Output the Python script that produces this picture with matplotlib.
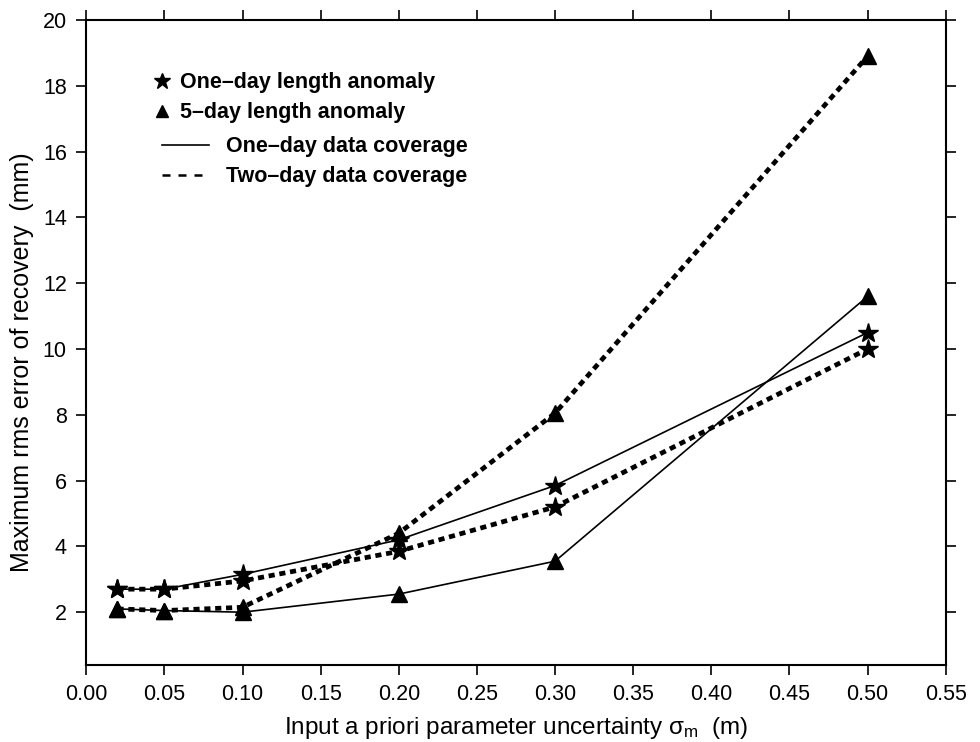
import matplotlib
matplotlib.use("Agg")
import matplotlib.pyplot as plt
from matplotlib.lines import Line2D

plt.rcParams['font.family'] = ['Liberation Sans', 'DejaVu Sans']
plt.rcParams['mathtext.fontset'] = 'custom'
plt.rcParams['mathtext.rm'] = 'Liberation Sans'
plt.rcParams['mathtext.it'] = 'Liberation Sans'

# 数据：输入先验参数不确定度 与 最大 rms 误差
sigma_m = [0.02, 0.05, 0.10, 0.20, 0.30, 0.50]
star_one_day = [2.7, 2.7, 3.15, 4.2, 5.85, 10.5]     # 一天异常，一天覆盖
star_two_day = [2.7, 2.7, 2.95, 3.85, 5.2, 10.0]     # 一天异常，两天覆盖
tri_one_day = [2.1, 2.05, 2.0, 2.55, 3.55, 11.6]     # 五天异常，一天覆盖
tri_two_day = [2.1, 2.05, 2.15, 4.4, 8.05, 18.9]     # 五天异常，两天覆盖

marker_labels = ["One\u2013day length anomaly", "5\u2013day length anomaly"]
line_labels = ["One\u2013day data coverage", "Two\u2013day data coverage"]

fig = plt.figure(figsize=(9.8, 7.42), dpi=100)
ax = fig.add_axes([0.088, 0.104, 0.877, 0.869])

solid = dict(color="black", linewidth=1.2, linestyle="-")
dashed = dict(color="black", linewidth=3.4, linestyle=(0, (1.3, 1.0)))

ax.plot(sigma_m, tri_one_day, marker="^", markersize=11, **solid)
ax.plot(sigma_m, star_one_day, marker="*", markersize=15, **solid)
ax.plot(sigma_m, tri_two_day, marker="^", markersize=11, **dashed)
ax.plot(sigma_m, star_two_day, marker="*", markersize=15, **dashed)

ax.set_xlim(0, 0.55)
ax.set_ylim(0.4, 20)
ax.set_xticks([i * 0.05 for i in range(12)])
ax.set_xticklabels([f"{i * 0.05:.2f}" for i in range(12)])
ax.set_yticks(range(2, 21, 2))

ax.tick_params(direction="out", length=7, width=1.2, labelsize=15.5,
               top=True, right=True, pad=7)
for s in ax.spines.values():
    s.set_linewidth(1.5)

ax.set_xlabel(r"Input a priori parameter uncertainty $\sigma_{\mathrm{m}}$  (m)",
              fontsize=17.5, labelpad=7)
ax.set_ylabel("Maximum rms error of recovery  (mm)", fontsize=18, labelpad=6)
ax.yaxis.label.set_y(0.47)

# 图例分成两块：标记符号一块，线型一块
leg_prop = {"weight": "bold", "size": 15.5}
marker_handles = [
    Line2D([], [], color="black", marker="*", linestyle="none", markersize=12),
    Line2D([], [], color="black", marker="^", linestyle="none", markersize=9),
]
leg1 = ax.legend(marker_handles, marker_labels, loc="upper left",
                 bbox_to_anchor=(0.081, 0.919), frameon=False, prop=leg_prop,
                 handlelength=0.6, handletextpad=0.5, labelspacing=0.42,
                 borderpad=0, borderaxespad=0)
ax.add_artist(leg1)

line_handles = [
    Line2D([], [], color="black", linewidth=1.2, linestyle="-"),
    Line2D([], [], color="black", linewidth=1.8, linestyle=(0, (3.2, 3.2))),
]
ax.legend(line_handles, line_labels, loc="upper left",
          bbox_to_anchor=(0.088, 0.8195), frameon=False, prop=leg_prop,
          handlelength=2.2, handletextpad=0.8, labelspacing=0.42,
          borderpad=0, borderaxespad=0)

fig.savefig("out.png", dpi=100)
